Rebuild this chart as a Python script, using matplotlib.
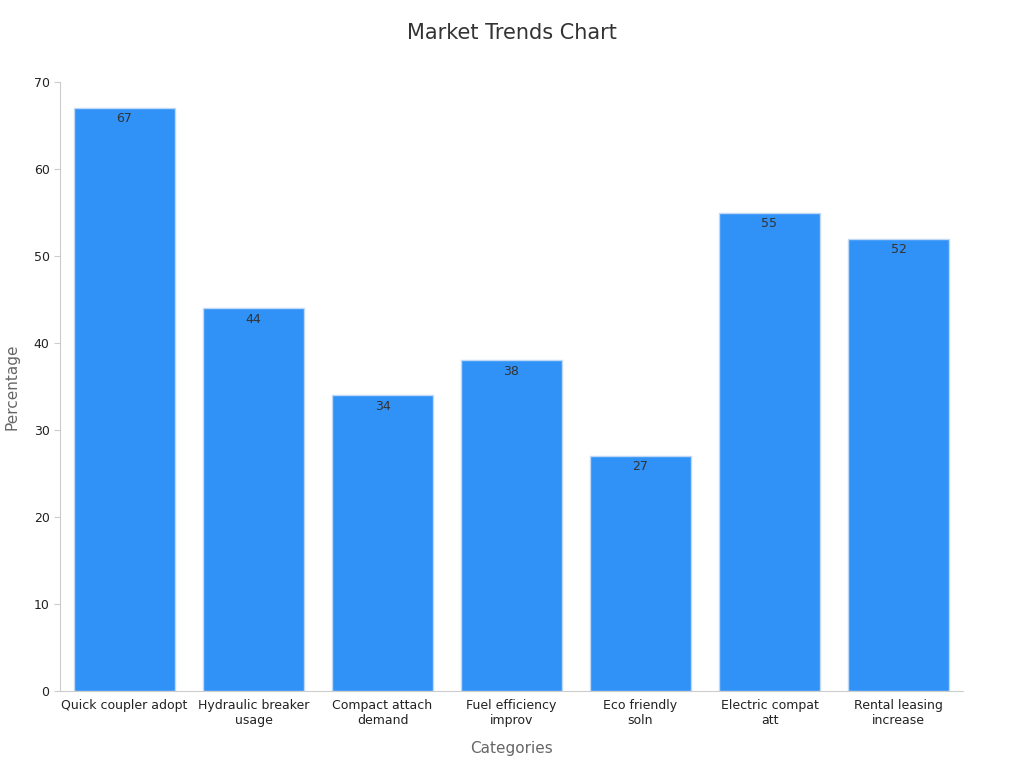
import matplotlib
matplotlib.use("Agg")
import matplotlib.pyplot as plt

categories = ["Quick coupler adopt", "Hydraulic breaker\nusage", "Compact attach\ndemand",
              "Fuel efficiency\nimprov", "Eco friendly\nsoln", "Electric compat\natt", "Rental leasing\nincrease"]
values = [67, 44, 34, 38, 27, 55, 52]

plt.rcParams['font.family'] = ['DejaVu Sans']
fig = plt.figure(figsize=(10.24, 7.68), dpi=100)
ax = fig.add_axes([60/1024, 77/768, 903/1024, 609/768])
x = range(len(categories))
bars = ax.bar(x, values, width=0.79, color="#3091F7", edgecolor="#BFD9F5", linewidth=1)
for xi, v in zip(x, values):
    ax.text(xi, v - 0.5, str(v), ha="center", va="top", fontsize=9, color="#333333")
ax.set_xlim(-0.5, len(categories) - 0.5)
ax.set_ylim(0, 70)
ax.set_xticks(list(x))
ax.set_xticklabels(categories, fontsize=9, color="#222222")
ax.set_yticks(range(0, 71, 10))
ax.tick_params(axis="y", labelsize=9, colors="#222222", length=4, color="#cccccc")
ax.tick_params(axis="x", length=0, pad=6)
for s in ["top", "right"]:
    ax.spines[s].set_visible(False)
for s in ["left", "bottom"]:
    ax.spines[s].set_color("#cccccc")
ax.set_xlabel("Categories", fontsize=11, color="#666666", labelpad=10)
ax.set_ylabel("Percentage", fontsize=11, color="#666666", labelpad=10)
fig.suptitle("Market Trends Chart", fontsize=15, color="#333333", y=0.97)
fig.savefig("out.png", dpi=100)
